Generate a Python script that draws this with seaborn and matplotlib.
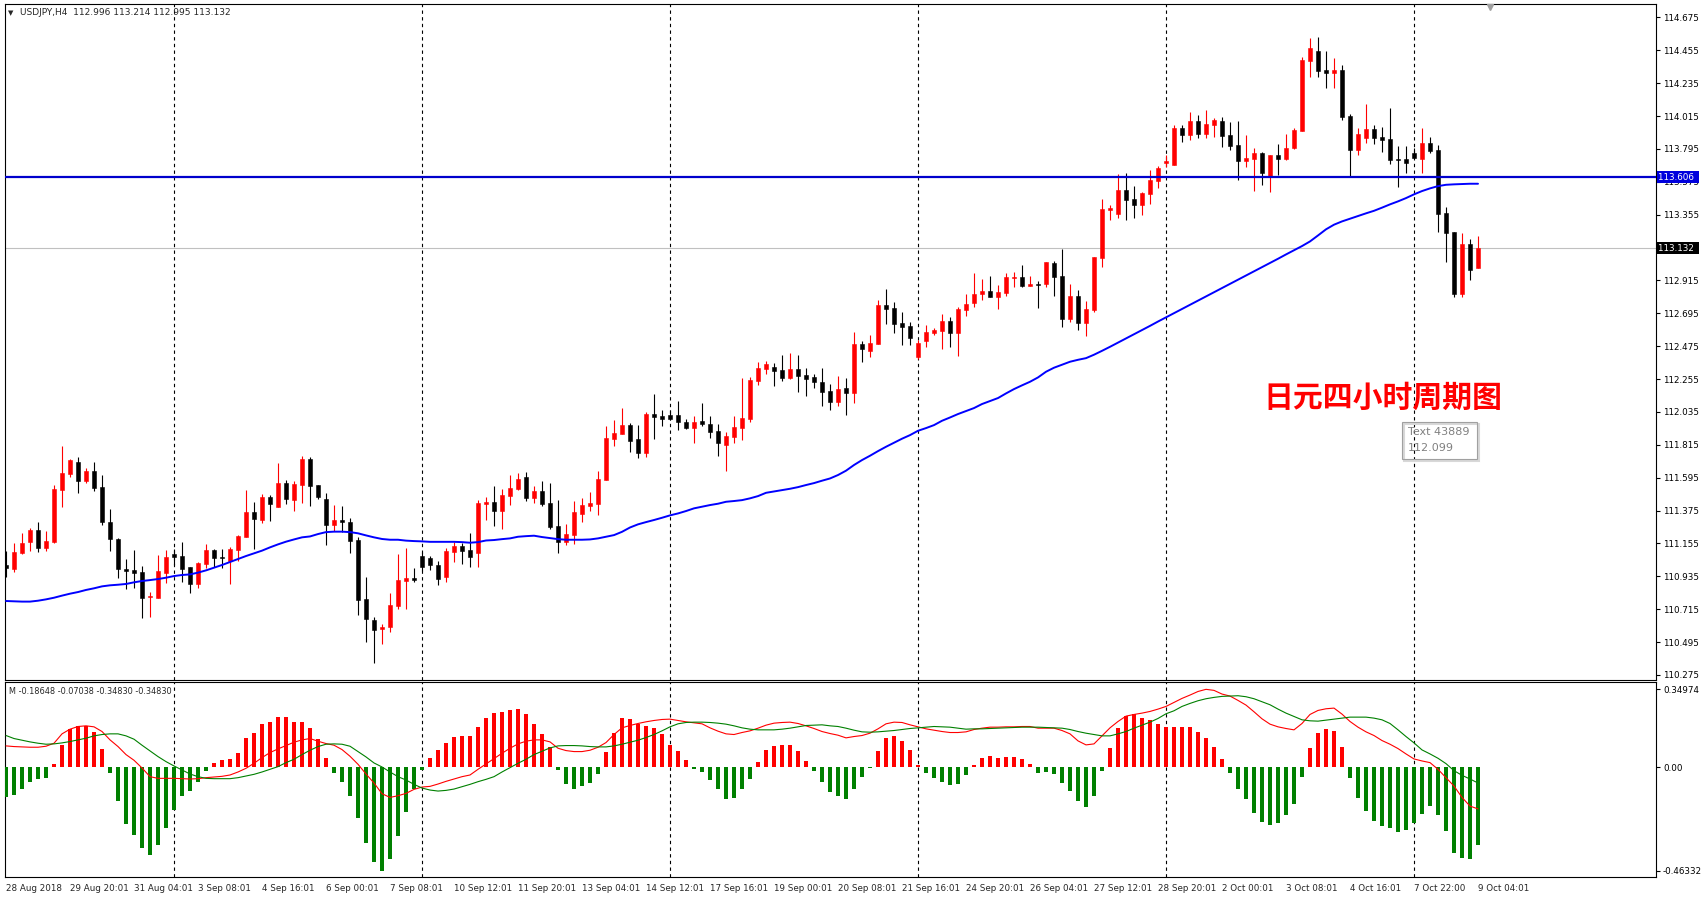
#import necessary packages
import numpy as np
import pandas as pd
import matplotlib
matplotlib.use('Agg')
from matplotlib import pyplot as plt
from matplotlib import transforms
from matplotlib.patches import Rectangle
import seaborn as sns

# ---- USDJPY H4 candles ----
opens = [111.011, 110.986, 111.089, 111.167, 111.245, 111.127, 111.165, 111.515, 111.622, 111.698,
         111.573, 111.640, 111.533, 111.299, 111.185, 110.984, 110.977, 110.964, 110.795, 110.792,
         110.960, 111.084, 111.071, 110.995, 110.886, 111.018, 111.111, 111.067, 111.040, 111.111,
         111.200, 111.365, 111.312, 111.466, 111.401, 111.559, 111.448, 111.548, 111.720, 111.544,
         111.450, 111.281, 111.312, 111.298, 111.178, 110.783, 110.643, 110.580, 110.594, 110.739,
         110.906, 110.924, 111.069, 111.055, 111.010, 110.930, 111.100, 111.137, 111.111, 111.093,
         111.421, 111.432, 111.374, 111.472, 111.521, 111.597, 111.461, 111.505, 111.425, 111.271,
         111.166, 111.211, 111.352, 111.407, 111.421, 111.581, 111.856, 111.889, 111.947, 111.853,
         111.763, 112.022, 112.008, 112.015, 112.015, 111.968, 111.930, 111.975, 111.955, 111.908,
         111.816, 111.870, 111.930, 111.990, 112.245, 112.325, 112.336, 112.316, 112.262, 112.323,
         112.280, 112.269, 112.236, 112.175, 112.104, 112.196, 112.164, 112.487, 112.445, 112.491,
         112.750, 112.728, 112.630, 112.610, 112.404, 112.511, 112.565, 112.578, 112.643, 112.565,
         112.719, 112.763, 112.826, 112.844, 112.806, 112.830, 112.931, 112.937, 112.879, 112.890,
         112.890, 113.031, 112.944, 112.656, 112.810, 112.627, 112.717, 113.067, 113.386, 113.360,
         113.520, 113.460, 113.419, 113.493, 113.580, 113.700, 113.687, 113.937, 113.888, 113.981,
         113.897, 113.955, 113.981, 113.888, 113.821, 113.714, 113.727, 113.767, 113.613, 113.754,
         113.727, 113.801, 113.914, 114.383, 114.450, 114.323, 114.305, 114.323, 114.015, 113.787,
         113.868, 113.928, 113.874, 113.861, 113.727, 113.727, 113.767, 113.727, 113.834, 113.787,
         113.366, 113.239, 112.824, 113.158, 112.996]
highs = [111.107, 111.160, 111.227, 111.256, 111.299, 111.241, 111.546, 111.807, 111.720, 111.731,
         111.660, 111.698, 111.611, 111.386, 111.189, 111.051, 111.111, 111.004, 110.832, 111.076,
         111.111, 111.118, 111.163, 110.998, 111.029, 111.151, 111.118, 111.118, 111.129, 111.210,
         111.512, 111.432, 111.486, 111.479, 111.693, 111.579, 111.573, 111.740, 111.733, 111.544,
         111.490, 111.412, 111.405, 111.323, 111.196, 110.933, 110.663, 110.616, 110.821, 111.084,
         111.123, 110.989, 111.100, 111.070, 111.040, 111.122, 111.166, 111.160, 111.222, 111.445,
         111.468, 111.539, 111.519, 111.612, 111.626, 111.633, 111.539, 111.572, 111.557, 111.445,
         111.285, 111.439, 111.459, 111.499, 111.639, 111.940, 111.980, 112.063, 111.960, 111.947,
         112.035, 112.155, 112.048, 112.048, 112.109, 111.988, 112.008, 112.093, 112.008, 111.955,
         111.901, 112.008, 112.262, 112.267, 112.369, 112.375, 112.361, 112.414, 112.430, 112.414,
         112.327, 112.287, 112.329, 112.222, 112.276, 112.262, 112.570, 112.509, 112.549, 112.784,
         112.857, 112.770, 112.703, 112.636, 112.516, 112.616, 112.594, 112.690, 112.670, 112.737,
         112.824, 112.964, 112.924, 112.944, 112.884, 112.964, 112.971, 113.018, 112.944, 112.911,
         113.040, 113.044, 113.125, 112.890, 112.850, 112.777, 113.073, 113.457, 113.419, 113.627,
         113.633, 113.546, 113.506, 113.654, 113.680, 113.754, 113.955, 113.955, 114.042, 114.021,
         114.055, 114.001, 114.008, 113.975, 113.981, 113.888, 113.801, 113.774, 113.754, 113.827,
         113.894, 113.934, 114.409, 114.537, 114.543, 114.450, 114.403, 114.356, 114.028, 113.934,
         114.095, 113.955, 113.941, 114.068, 113.814, 113.814, 113.801, 113.934, 113.874, 113.821,
         113.406, 113.239, 113.232, 113.192, 113.214]
lows = [110.928, 110.966, 111.084, 111.107, 111.098, 111.107, 111.156, 111.401, 111.602, 111.495,
        111.557, 111.508, 111.281, 111.107, 110.926, 110.853, 110.855, 110.658, 110.665, 110.790,
        110.893, 111.011, 110.899, 110.826, 110.859, 110.993, 111.000, 110.988, 110.881, 111.040,
        111.196, 111.120, 111.294, 111.307, 111.401, 111.417, 111.374, 111.428, 111.408, 111.450,
        111.147, 111.240, 111.234, 111.089, 110.678, 110.493, 110.353, 110.480, 110.565, 110.716,
        110.714, 110.899, 110.973, 110.980, 110.880, 110.900, 111.030, 111.020, 111.000, 111.000,
        111.311, 111.271, 111.253, 111.412, 111.514, 111.441, 111.425, 111.405, 111.249, 111.088,
        111.144, 111.149, 111.300, 111.374, 111.347, 111.581, 111.809, 111.889, 111.769, 111.726,
        111.736, 111.854, 111.943, 111.981, 111.914, 111.921, 111.830, 111.943, 111.863, 111.743,
        111.642, 111.830, 111.850, 111.970, 112.216, 112.291, 112.209, 112.245, 112.256, 112.171,
        112.144, 112.198, 112.077, 112.051, 112.077, 112.017, 112.097, 112.371, 112.404, 112.491,
        112.625, 112.565, 112.485, 112.485, 112.386, 112.471, 112.549, 112.458, 112.471, 112.409,
        112.679, 112.737, 112.784, 112.806, 112.723, 112.810, 112.870, 112.870, 112.877, 112.730,
        112.870, 112.810, 112.603, 112.636, 112.583, 112.545, 112.705, 113.006, 113.319, 113.330,
        113.320, 113.330, 113.350, 113.426, 113.533, 113.674, 113.687, 113.843, 113.854, 113.868,
        113.868, 113.874, 113.807, 113.787, 113.587, 113.676, 113.513, 113.553, 113.506, 113.620,
        113.720, 113.794, 113.914, 114.276, 114.276, 114.202, 114.202, 113.988, 113.613, 113.754,
        113.834, 113.827, 113.774, 113.694, 113.540, 113.633, 113.734, 113.633, 113.767, 113.239,
        113.038, 112.804, 112.804, 112.918, 112.995]
closes = [110.989, 111.098, 111.158, 111.245, 111.127, 111.171, 111.519, 111.626, 111.713, 111.575,
          111.640, 111.528, 111.301, 111.183, 110.986, 110.973, 110.960, 110.792, 110.803, 110.971,
          111.064, 111.064, 110.986, 110.886, 111.024, 111.111, 111.060, 111.055, 111.118, 111.205,
          111.365, 111.316, 111.466, 111.419, 111.559, 111.455, 111.555, 111.720, 111.542, 111.468,
          111.281, 111.312, 111.296, 111.174, 110.779, 110.647, 110.578, 110.594, 110.743, 110.911,
          110.924, 110.913, 111.000, 111.010, 110.920, 111.104, 111.137, 111.106, 111.066, 111.423,
          111.430, 111.374, 111.479, 111.525, 111.586, 111.461, 111.505, 111.421, 111.267, 111.166,
          111.218, 111.365, 111.412, 111.425, 111.586, 111.860, 111.893, 111.947, 111.842, 111.762,
          112.022, 112.004, 111.990, 111.990, 111.970, 111.930, 111.968, 111.955, 111.903, 111.830,
          111.877, 111.935, 111.995, 112.249, 112.329, 112.354, 112.311, 112.265, 112.323, 112.278,
          112.258, 112.238, 112.171, 112.104, 112.189, 112.164, 112.490, 112.458, 112.496, 112.750,
          112.726, 112.625, 112.605, 112.532, 112.494, 112.569, 112.583, 112.643, 112.565, 112.723,
          112.757, 112.824, 112.844, 112.806, 112.837, 112.937, 112.937, 112.877, 112.890, 112.884,
          113.038, 112.937, 112.656, 112.810, 112.630, 112.721, 113.071, 113.392, 113.397, 113.520,
          113.453, 113.419, 113.500, 113.587, 113.667, 113.714, 113.937, 113.888, 113.981, 113.897,
          113.961, 113.988, 113.881, 113.814, 113.714, 113.734, 113.767, 113.633, 113.754, 113.727,
          113.801, 113.921, 114.389, 114.470, 114.316, 114.305, 114.323, 114.008, 113.787, 113.894,
          113.928, 113.868, 113.854, 113.720, 113.720, 113.700, 113.734, 113.834, 113.781, 113.359,
          113.232, 112.824, 113.158, 112.985, 113.132]
# blue moving average
ma_line = [110.770, 110.768, 110.766, 110.766, 110.772, 110.781, 110.792, 110.806, 110.819, 110.830,
           110.844, 110.855, 110.868, 110.875, 110.879, 110.884, 110.895, 110.904, 110.910, 110.917,
           110.926, 110.937, 110.944, 110.948, 110.960, 110.975, 110.993, 111.011, 111.031, 111.051,
           111.071, 111.089, 111.107, 111.129, 111.149, 111.167, 111.182, 111.196, 111.202, 111.218,
           111.231, 111.234, 111.234, 111.231, 111.223, 111.209, 111.196, 111.185, 111.180, 111.180,
           111.174, 111.171, 111.169, 111.166, 111.166, 111.166, 111.166, 111.164, 111.160, 111.164,
           111.175, 111.178, 111.184, 111.189, 111.200, 111.204, 111.207, 111.198, 111.191, 111.184,
           111.180, 111.180, 111.180, 111.182, 111.189, 111.200, 111.211, 111.233, 111.262, 111.283,
           111.298, 111.312, 111.327, 111.343, 111.356, 111.372, 111.390, 111.401, 111.412, 111.421,
           111.434, 111.439, 111.445, 111.457, 111.472, 111.494, 111.503, 111.512, 111.521, 111.532,
           111.546, 111.559, 111.575, 111.590, 111.613, 111.642, 111.680, 111.713, 111.742, 111.773,
           111.802, 111.829, 111.856, 111.880, 111.909, 111.927, 111.947, 111.976, 111.998, 112.021,
           112.041, 112.061, 112.088, 112.108, 112.128, 112.159, 112.188, 112.213, 112.237, 112.266,
           112.304, 112.331, 112.351, 112.371, 112.384, 112.395, 112.418, 112.444, 112.471, 112.499,
           112.527, 112.555, 112.583, 112.611, 112.640, 112.668, 112.696, 112.724, 112.752, 112.780,
           112.808, 112.836, 112.864, 112.892, 112.920, 112.948, 112.976, 113.004, 113.032, 113.060,
           113.089, 113.117, 113.145, 113.176, 113.216, 113.257, 113.288, 113.310, 113.328, 113.346,
           113.364, 113.381, 113.402, 113.424, 113.444, 113.466, 113.491, 113.513, 113.531, 113.546,
           113.555, 113.558, 113.560, 113.562, 113.562]

# ---- MACD panel ----
macd_hist = [-0.135, -0.124, -0.097, -0.064, -0.052, -0.048, 0.015, 0.099, 0.171, 0.186,
             0.187, 0.159, 0.082, -0.024, -0.150, -0.253, -0.303, -0.360, -0.393, -0.348,
             -0.271, -0.192, -0.127, -0.105, -0.064, -0.015, 0.018, 0.033, 0.036, 0.064,
             0.130, 0.156, 0.192, 0.205, 0.226, 0.226, 0.204, 0.204, 0.177, 0.129,
             0.042, -0.024, -0.067, -0.127, -0.229, -0.339, -0.424, -0.4633, -0.411, -0.307,
             -0.199, -0.097, -0.012, 0.042, 0.078, 0.111, 0.136, 0.141, 0.141, 0.181,
             0.222, 0.244, 0.246, 0.259, 0.262, 0.238, 0.196, 0.148, 0.090, -0.012,
             -0.075, -0.096, -0.084, -0.069, -0.030, 0.070, 0.156, 0.219, 0.216, 0.195,
             0.187, 0.178, 0.148, 0.099, 0.075, 0.033, -0.006, -0.019, -0.055, -0.099,
             -0.141, -0.138, -0.097, -0.051, 0.025, 0.078, 0.097, 0.100, 0.100, 0.073,
             0.030, -0.015, -0.066, -0.112, -0.127, -0.142, -0.097, -0.042, -0.002, 0.075,
             0.132, 0.141, 0.118, 0.078, 0.009, -0.027, -0.048, -0.066, -0.078, -0.073,
             -0.036, 0.010, 0.040, 0.049, 0.043, 0.046, 0.046, 0.037, 0.015, -0.024,
             -0.019, -0.030, -0.069, -0.105, -0.150, -0.177, -0.129, -0.015, 0.087, 0.177,
             0.231, 0.237, 0.220, 0.213, 0.196, 0.181, 0.181, 0.181, 0.181, 0.160,
             0.132, 0.093, 0.037, -0.025, -0.096, -0.144, -0.204, -0.244, -0.258, -0.250,
             -0.214, -0.163, -0.042, 0.087, 0.156, 0.171, 0.163, 0.093, -0.046, -0.139,
             -0.195, -0.240, -0.262, -0.271, -0.289, -0.283, -0.249, -0.208, -0.172, -0.214,
             -0.285, -0.384, -0.406, -0.411, -0.3483]
macd_main = [0.096, 0.093, 0.0915, 0.090, 0.090, 0.0945, 0.108, 0.150, 0.171, 0.183,
             0.186, 0.1815, 0.1605, 0.123, 0.093, 0.057, 0.0315, -0.003, -0.042, -0.0495,
             -0.0495, -0.0495, -0.051, -0.0525, -0.051, -0.0465, -0.0435, -0.0405, -0.0345, -0.021,
             -0.0045, 0.018, 0.0435, 0.066, 0.0825, 0.0975, 0.1125, 0.123, 0.129, 0.117,
             0.1065, 0.099, 0.0795, 0.0495, 0.0135, -0.030, -0.0705, -0.1185, -0.135, -0.1275,
             -0.117, -0.099, -0.0885, -0.0855, -0.075, -0.063, -0.0525, -0.042, -0.0345, -0.009,
             0.015, 0.039, 0.063, 0.0855, 0.105, 0.117, 0.123, 0.123, 0.114, 0.0855,
             0.075, 0.0705, 0.0705, 0.0765, 0.090, 0.111, 0.147, 0.177, 0.1875, 0.1965,
             0.204, 0.210, 0.2145, 0.216, 0.210, 0.204, 0.1995, 0.195, 0.177, 0.162,
             0.150, 0.147, 0.156, 0.1635, 0.1755, 0.189, 0.198, 0.201, 0.2025, 0.1965,
             0.186, 0.174, 0.1605, 0.1515, 0.144, 0.132, 0.138, 0.1425, 0.153, 0.1725,
             0.195, 0.2025, 0.201, 0.1905, 0.1815, 0.1725, 0.1665, 0.1605, 0.156, 0.156,
             0.159, 0.1695, 0.1755, 0.180, 0.180, 0.1815, 0.1815, 0.183, 0.183, 0.1755,
             0.1755, 0.1755, 0.165, 0.150, 0.1185, 0.1005, 0.105, 0.141, 0.177, 0.2055,
             0.2295, 0.237, 0.243, 0.2505, 0.261, 0.273, 0.291, 0.309, 0.324, 0.340,
             0.3497, 0.345, 0.3285, 0.3195, 0.300, 0.279, 0.249, 0.2175, 0.1935, 0.1815,
             0.174, 0.168, 0.1965, 0.237, 0.255, 0.2625, 0.2655, 0.2385, 0.2055, 0.180,
             0.159, 0.1425, 0.120, 0.1035, 0.084, 0.060, 0.0375, 0.0285, 0.021, -0.009,
             -0.0465, -0.084, -0.135, -0.174, -0.18648]
macd_signal = [0.1425, 0.129, 0.1215, 0.114, 0.108, 0.1035, 0.105, 0.1095, 0.1155, 0.123,
               0.1305, 0.141, 0.147, 0.150, 0.150, 0.141, 0.126, 0.099, 0.0735, 0.048,
               0.0255, 0.006, -0.012, -0.030, -0.042, -0.0495, -0.051, -0.051, -0.051, -0.0465,
               -0.039, -0.0315, -0.021, -0.009, 0.003, 0.021, 0.036, 0.057, 0.0765, 0.093,
               0.1035, 0.105, 0.1035, 0.0945, 0.0705, 0.0465, 0.0195, 0.0015, -0.021, -0.042,
               -0.057, -0.0765, -0.093, -0.102, -0.1065, -0.1035, -0.0975, -0.087, -0.0765, -0.0645,
               -0.054, -0.042, -0.021, -0.0015, 0.018, 0.036, 0.057, 0.072, 0.087, 0.096,
               0.0975, 0.0975, 0.096, 0.093, 0.0915, 0.0915, 0.096, 0.1035, 0.1125, 0.1215,
               0.1335, 0.147, 0.1635, 0.1815, 0.195, 0.201, 0.2025, 0.2025, 0.201, 0.198,
               0.1935, 0.186, 0.177, 0.171, 0.168, 0.168, 0.168, 0.171, 0.1755, 0.1815,
               0.1875, 0.189, 0.1905, 0.186, 0.183, 0.1755, 0.1665, 0.159, 0.1575, 0.159,
               0.162, 0.165, 0.1695, 0.174, 0.177, 0.180, 0.183, 0.1815, 0.180, 0.1755,
               0.171, 0.1725, 0.1725, 0.174, 0.1755, 0.177, 0.1785, 0.180, 0.180, 0.180,
               0.1785, 0.177, 0.1755, 0.1695, 0.1605, 0.153, 0.147, 0.141, 0.141, 0.150,
               0.1605, 0.1755, 0.189, 0.2025, 0.219, 0.240, 0.2535, 0.273, 0.2865, 0.2985,
               0.3075, 0.3135, 0.318, 0.3195, 0.321, 0.3165, 0.3075, 0.294, 0.2805, 0.261,
               0.243, 0.228, 0.213, 0.2085, 0.207, 0.2115, 0.216, 0.2205, 0.225, 0.225,
               0.225, 0.2205, 0.213, 0.1965, 0.168, 0.138, 0.1095, 0.078, 0.060, 0.0405,
               0.0165, -0.015, -0.036, -0.0525, -0.07038]

# axis labels
time_pos = [0, 8, 16, 24, 32, 40, 48, 56, 64, 72, 80, 88, 96, 104, 112, 120, 128, 136, 144, 152,
            160, 168, 176, 184]
time_txt = ['28 Aug 2018', '29 Aug 20:01', '31 Aug 04:01', '3 Sep 08:01', '4 Sep 16:01', '6 Sep 00:01',
            '7 Sep 08:01', '10 Sep 12:01', '11 Sep 20:01', '13 Sep 04:01', '14 Sep 12:01', '17 Sep 16:01',
            '19 Sep 00:01', '20 Sep 08:01', '21 Sep 16:01', '24 Sep 20:01', '26 Sep 04:01', '27 Sep 12:01',
            '28 Sep 20:01', '2 Oct 00:01', '3 Oct 08:01', '4 Oct 16:01', '7 Oct 22:00', '9 Oct 04:01']
grid_pos = [21, 52, 83, 114, 145, 176]
price_ticks = [114.675, 114.455, 114.235, 114.015, 113.795, 113.575, 113.355, 113.135, 112.915, 112.695,
               112.475, 112.255, 112.035, 111.815, 111.595, 111.375, 111.155, 110.935, 110.715, 110.495,
               110.275]
macd_ticks = [0.34974, 0.0, -0.46332]
macd_tick_txt = ['0.34974', '0.00', '-0.46332']
hline_level = 113.606
bid_level = 113.132

sns.set_style('white')
plt.rcParams['font.family'] = ['DejaVu Sans']

df = pd.DataFrame({'open': opens, 'high': highs, 'low': lows, 'close': closes,
                   'ma': ma_line, 'hbar': macd_hist, 'macd': macd_main, 'signal': macd_signal})
df['i'] = np.arange(len(df))
up = df['close'] >= df['open']
cand_col = np.where(up, '#ff0000', '#000000')

W, H = 1702, 900
fig = plt.figure(figsize=(W / 100, H / 100), dpi=100)
ax = fig.add_axes([4.5 / W, 1 - 679.5 / H, (1656 - 4.5) / W, (679.5 - 4.3) / H])
ax2 = fig.add_axes([4.5 / W, 1 - 876.7 / H, (1656 - 4.5) / W, (876.7 - 681.7) / H])

#price panel
ax.vlines(df['i'], df['low'], df['high'], colors=cand_col, linewidth=0.8, zorder=3)
body_h = np.maximum((df['close'] - df['open']).abs(), 0.004)
ax.bar(df['i'], body_h, bottom=np.minimum(df['open'], df['close']), width=0.6,
       color=cand_col, edgecolor=cand_col, linewidth=0.4, zorder=4)
sns.lineplot(data=df, x='i', y='ma', ax=ax, color='#0000ff', linewidth=1.4, zorder=5)
ax.axhline(hline_level, color='#0000cc', linewidth=1.6, zorder=5)
ax.axhline(bid_level, color='#c0c0c0', linewidth=0.8, zorder=1)

#macd panel
ax2.bar(df['i'], df['hbar'], width=0.38, color=np.where(df['hbar'] >= 0, '#ff0000', '#008000'),
        linewidth=0, zorder=3)
sns.lineplot(data=df, x='i', y='macd', ax=ax2, color='#ff0000', linewidth=0.8, zorder=4)
sns.lineplot(data=df, x='i', y='signal', ax=ax2, color='#008000', linewidth=0.8, zorder=4)

for a in (ax, ax2):
    for g in grid_pos:
        a.axvline(g, color='black', linewidth=0.8, linestyle=(0, (3, 3)), zorder=2)
    a.set_xlim(-0.19, 206.25)
    a.set_xlabel('')
    a.set_ylabel('')
    a.yaxis.tick_right()
    a.tick_params(axis='y', direction='out', length=3, width=0.8, pad=2, labelsize=6.3, colors='black')
    for s in a.spines.values():
        s.set_color('black')
        s.set_linewidth(0.8)

ax.set_ylim(110.2448, 114.7627)
ax.set_yticks(price_ticks)
# the 113.135 label sits under the bid box, as on the terminal
ax.set_yticklabels(['' if abs(p - bid_level) < 0.01 else '%.3f' % p for p in price_ticks])
ax.set_xticks([])

ax2.set_ylim(-0.4906, 0.3839)
ax2.set_yticks(macd_ticks)
ax2.set_yticklabels(macd_tick_txt)
ax2.set_xticks(time_pos)
ax2.set_xticklabels(time_txt, ha='left', fontsize=6.3)
ax2.tick_params(axis='x', direction='out', length=3, width=0.8, pad=2)

# price boxes on the right axis
tr = transforms.blended_transform_factory(ax.transAxes, ax.transData)
ax.text(1.0015, hline_level, '113.606 ', transform=tr, ha='left', va='center', fontsize=6.3, color='white',
        bbox=dict(boxstyle='square,pad=0.2', fc='#0000dd', ec='none'), zorder=10, clip_on=False)
ax.text(1.0015, bid_level, '113.132 ', transform=tr, ha='left', va='center', fontsize=6.3, color='white',
        bbox=dict(boxstyle='square,pad=0.2', fc='#000000', ec='none'), zorder=10, clip_on=False)
ax.plot([185.5], [114.745], marker='v', color='#a0a0a0', markersize=4, clip_on=False, zorder=6)

# texts
fig.text(8 / W, 1 - 12.7 / H, '▼', fontsize=5, va='center', ha='left')
fig.text(20.5 / W, 1 - 12.7 / H, 'USDJPY,H4  112.996 113.214 112.995 113.132', fontsize=6.5,
         va='center', ha='left')
fig.text(9 / W, 1 - 691.7 / H, 'M -0.18648 -0.07038 -0.34830 -0.34830', fontsize=5.9,
         va='center', ha='left')
fig.text(1383 / W, 1 - 398 / H, '日元四小时周期图', fontsize=21.5, color='#ff0000', fontweight='bold',
         family=['Noto Sans CJK SC', 'DejaVu Sans'], ha='center', va='center')

# little tooltip box
fig.patches.append(Rectangle((1404 / W, 1 - 461 / H), 75 / W, 37 / H, transform=fig.transFigure,
                             fill=False, ec='#d8d8d8', lw=1.5))
fig.patches.append(Rectangle((1402 / W, 1 - 459 / H), 75 / W, 37 / H, transform=fig.transFigure,
                             fill=False, ec='#a0a0a0', lw=0.8))
fig.text(1408 / W, 1 - 432 / H, 'Text 43889', fontsize=8, color='#808080', va='center', ha='left')
fig.text(1408 / W, 1 - 448.5 / H, '112.099', fontsize=8, color='#808080', va='center', ha='left')

fig.savefig('out.png', dpi=100)
